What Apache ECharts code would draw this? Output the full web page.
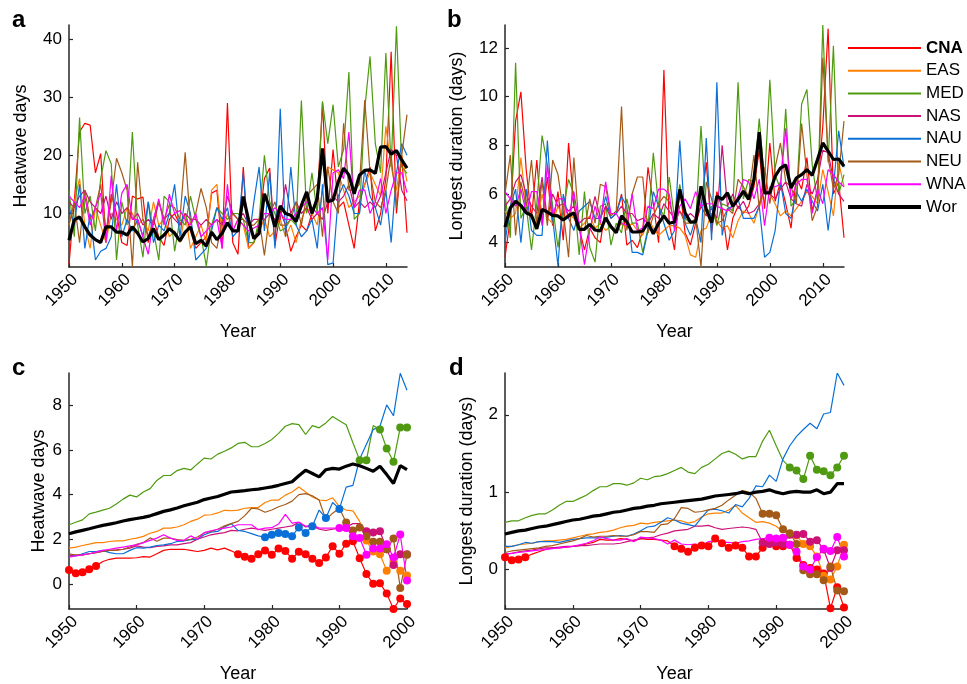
<!DOCTYPE html>
<html>
<head>
<meta charset="utf-8">
<script src="https://cdn.jsdelivr.net/npm/echarts@6/dist/echarts.min.js"></script>
<style>
html,body{margin:0;padding:0;background:#fff;}
#chart{width:967px;height:684px;}
</style>
</head>
<body>
<div id="chart"></div>
<script>
// ---------- DATA ----------
const regions = ['CNA', 'EAS', 'MED', 'NAS', 'NAU', 'NEU', 'WNA', 'Wor'];
const xTicksAB = [1950, 1960, 1970, 1980, 1990, 2000, 2010];
const xTicksCD = [1950, 1960, 1970, 1980, 1990, 2000];
const yTicksA = [10, 20, 30, 40];
const yTicksB = [4, 6, 8, 10, 12];
const yTicksC = [0, 2, 4, 6, 8];
const yTicksD = [0, 1, 2];

// Panel a: heatwave days 1950-2014
const cnaA = [1.2,12,24,25.5,25.2,17,20.3,5,13.3,10, 5,4.5,13,12.5,12.8,5,9,6,4.5,9, 10,8,10,7,4,5,6,13.5,14,4, 29,5,3,18,4,5,8,16,17.8,4.5, 10.4,8,3.5,6,8,7,10,12,29,10, 21,11,12,8,4,12,15,18,7,10, 16,37.8,10,20,6.7];
const easA = [8,12,16,8,4,11,8,5,10,9, 8,11,10,8,9,7,12,8,9,6, 7,5,10,4,6,8,5,14,15,6, 10,7,9,8,4,5,7,9,6,7, 9,6,8,5,9,11,10,8,14,18, 17.5,17,14,11,12,13,15,17,15,13, 25,18,14,20,15.5];
const medA = [14,6,26.5,10,13,7,16,20.8,18.5,2, 12,8,24,8,2.5,12,7,2,13,12, 3.5,9,8,13,9,6,1,8,11,10, 9,10,10,9,5,5,9,20,12,10, 7,7.5,9,8,29.4,10,17,10,29.3,22, 28.7,18,21,34.3,9,10,28,37,22,17, 37.6,18,42.2,18,16.9];
const nasA = [12,11,13,14,12,11,10,13,9,12, 10,11,9,10,8,9,8,12,9,10, 9,8,10,9,9,8,9,8,9,8, 13,10,9,10,8,9,9,9,10,9, 9,15,10,12,10,11,9,10,9,12, 13,12,13,15,11,12,11,12,11,13, 17,21,20,14,12.2];
const nauA = [11,8,15,4,10,2,3.5,4,6,15, 6,9,7,9,6,12,5,8,7,10, 15,6,13,10,2,3,4,7,11,9, 11,6,7,17,5,12,18,7,17,4, 28,6,18,8,6,7,9,4,15,1.2, 1.5,13,15,13,10,10,17.5,13,11,8, 14,5,17,22,20];
const neuA = [8,12,5,14,9,11,15,7,12,19.5, 17,14,0.8,18.8,9,6,9,12,9,11.5, 11,9,20.5,8,10,14.3,11,5,4,9, 8,10,9,9,8,8,9,2.8,10,12, 8,8,9,12,8,13,14,15,6,18, 12,10,25.5,14,14,15,29.5,17,12,11, 14,20,11,20,27];
const wnaA = [13,12,11,13,8,11,13.5,5,16.5,7, 13.5,15,9,9,6,3,9,12.5,8,13.3, 10,10.5,9,8,10,6,7,8,9,4, 15,7,9,8,7,7.5,8,10,10,11, 10,9,9,10,11,12,11,10,11,2, 17,17.5,16,24,11,14,14,10,12,16, 10,14,17,17,13.6];
const worA = [5.4,8.9,9.4,7.7,6.3,5.5,5.0,7.7,7.7,6.8, 6.8,6.3,7.7,6.6,5.1,5.7,7.4,5.5,6.3,7.4, 6.6,5.3,6.8,7.7,4.8,5.4,4.4,6.8,5.5,6.6, 8.4,7.0,7.0,12.9,8.9,5.7,6.6,13.4,10.9,7.7, 11.3,10.0,9.7,8.6,11.4,13.7,10.0,12.6,21.2,12.0, 12.3,15.5,17.8,16.6,13.4,16.6,17.4,17.5,16.9,21.4, 21.5,20.2,20.8,19.2,17.8];

// Panel b: longest duration 1950-2014
const cnaB = [3.4,5,9,10.2,7,5,7.4,4.8,6.7,4.7, 6.1,4.1,8.1,5.5,4.6,3.7,4.6,4.2,4.0,5.5, 5.2,5.2,6,3.9,4.1,3.8,4.5,7.1,5.6,4, 11.1,4.8,3.7,6.3,4.4,3.9,4.8,5.5,7.3,4.4, 6.1,5.4,3.7,5,5.5,5.2,5.5,6.3,7.8,5.4, 8.1,5.7,6.5,5.6,4.6,6.7,6.2,7.5,5.3,6.2, 8.8,12.8,6,6.5,4.2];
const easB = [5.3,5,5.2,7.5,5.5,5,4.8,6,5,4.8, 5.5,5,5.2,5,4.6,4.8,5.1,4.6,4.8,4.5, 4.7,4.5,4.8,4.6,4.8,4.5,4.3,5,4.6,4.3, 4.5,4.7,4.7,4.6,4.3,3.5,3.4,4.5,4.6,5.2, 4.9,4.6,4.7,4.2,4.9,5.3,5.2,4.8,5.5,6.1, 6.0,5.6,5.1,5.3,5.1,5.4,5.7,6.1,5.9,5.6, 7.0,6.1,5.1,7.3,6.3];
const medB = [6,4.2,11.4,5,5.5,3.7,5.6,8.4,7.2,5.5, 3.8,5.4,6.6,6,3.5,6.1,3.8,3.2,5.5,5.6, 3.9,4.8,4.4,5.8,4.8,4.8,3.6,4.6,7.7,5.5, 5.1,6.7,5,6.4,5,4.8,4.8,8.8,5.2,5.5, 4.7,5.6,5.5,5.3,10.6,5.8,6.6,6.5,9.1,6.5, 10.7,6.8,6.2,9.5,5.5,5.8,9.7,10.3,7.2,5.7, 12.95,7.3,12.1,6,6.8];
const nasB = [5.5,5.8,6.5,6.8,6.0,5.5,5.2,6.7,5.0,6.0, 5.5,5.6,5.3,5.5,4.8,5.0,5.0,5.9,5.0,5.5, 5.0,5.2,5.5,5.2,5.2,4.9,5.0,4.8,5.2,5.0, 5.6,5.3,5.0,5.3,5.0,5.2,5.0,5.5,5.1,5.4, 5.0,8.0,5.5,6.0,5.4,5.7,5.2,5.3,5.6,6.2, 6.0,5.8,6.2,6.5,5.8,5.6,5.5,6.4,6.0,6.6, 7.8,7.7,6.6,6.0,5.7];
const nauB = [4,5.5,6.2,4.0,6.2,4.5,4.3,4.3,8.2,5.0, 3.05,6.0,5,4.5,5.3,5.5,5.7,5.0,5.0,5.9, 5,5.2,5.9,5.5,3.6,3.6,3.5,4.5,6.1,5.5, 4.8,4.1,4.5,8.2,4.8,4.3,5,4.0,8.3,4.1, 10.6,4.3,5.4,5.5,5.8,5.0,5.0,5.0,5.5,3.4, 3.6,4.5,6.5,5.2,5.0,6.1,5.7,6.2,5.7,5.3, 6.4,4.5,6.3,8.6,7.1];
const neuB = [6,7.6,4.3,6.5,5.5,7.4,4.8,6.5,4.7,7.4, 6.8,5.3,3.4,7.5,4.6,4.5,5.8,4.8,6.4,6.3, 5.1,5.3,9.6,4.5,6,6.7,6.7,4.4,5.1,5.6, 5.9,5.7,4.8,5.3,4.8,4.8,5,3.0,6.5,5.8, 4.8,4.9,5.4,5.2,6.6,6.3,5.9,7.6,5.4,7.1, 5.6,7.1,8.1,6.5,6.3,5.6,8.9,6.8,4.9,5.5, 11.6,7.5,6.2,6.8,9.0];
const wnaB = [6.1,5.8,5.5,6.2,5.2,6.1,6.1,4.7,7.2,5.1, 5.8,5.8,5.0,6.1,4.7,3.1,4.5,5.5,4.8,6.5, 5.2,5.2,4.8,4.7,6,4.5,4.6,5.5,5.4,6.2, 6.2,6.0,4.5,5.5,5.8,5.4,6.1,5.5,5.6,5.6, 5.5,5.4,5.3,5.5,5.9,6.6,6.5,5.8,6.6,4.7, 6.3,6.3,6.4,8.7,5.8,6.4,6.6,6.6,5.2,6.2, 5.6,7.0,6.8,6.5,6.3];
const worB = [4.64,5.43,5.7,5.53,5.23,5.12,4.57,5.37,5.26,5.12, 5.1,4.93,5.1,5.23,4.55,4.55,4.75,4.52,4.48,5.02, 4.66,4.41,5.1,4.85,4.44,4.44,4.48,4.82,4.37,4.8, 5.1,4.8,4.85,6.19,5.23,4.85,4.85,6.32,5.37,4.82, 5.91,5.78,6.05,5.5,5.78,6.12,5.78,6.6,8.54,6.05, 6.05,6.73,7.07,7.2,6.25,6.66,6.8,7.0,6.77,7.42, 8.1,7.76,7.42,7.44,7.14];

// Panel c: heatwave days trend 1950-2000
const cnaC = [0.62,0.47,0.52,0.65,0.8,1.0,1.1,1.15,1.15,1.15, 1.17,1.22,1.2,1.35,1.5,1.55,1.55,1.55,1.5,1.45, 1.5,1.6,1.52,1.6,1.48,1.33,1.21,1.13,1.33,1.5, 1.3,1.59,1.47,1.13,1.44,1.33,1.13,0.93,1.18,1.69, 1.35,1.8,1.91,1.15,0.44,0.0,0.03,-0.44,-1.13,-0.66, -0.91];
const easC = [1.6,1.65,1.72,1.78,1.85,1.85,1.9,1.93,1.93,2.0, 2.05,2.13,2.27,2.35,2.5,2.5,2.55,2.65,2.8,2.9, 3.08,3.1,3.18,3.3,3.28,3.31,3.39,3.42,3.42,3.65, 3.76,3.76,3.98,4.12,4.34,4.12,3.9,3.76,3.73,3.86, 3.46,3.31,3.27,2.8,1.94,1.45,1.33,0.59,1.0,0.59, 0.37];
const medC = [2.65,2.76,2.87,3.14,3.22,3.31,3.39,3.58,3.8,3.98, 3.9,4.12,4.27,4.64,4.86,4.86,5.08,5.18,5.11,5.38, 5.64,5.6,5.82,5.95,6.1,6.3,6.35,6.15,6.15,6.3, 6.48,6.75,7.07,7.19,7.14,6.7,7.1,7.0,7.22,7.51, 7.32,7.14,6.33,5.55,5.55,7.1,6.92,6.07,5.48,7.01, 7.01];
const nasC = [1.25,1.28,1.3,1.35,1.4,1.45,1.5,1.52,1.55,1.6, 1.7,1.65,1.62,1.68,1.7,1.75,1.75,1.8,1.85,2.0, 2.1,2.2,2.25,2.3,2.4,2.38,2.45,2.5,2.45,2.4, 2.45,2.5,2.55,2.6,2.75,2.55,2.6,2.45,2.4,2.45, 2.5,2.55,2.7,2.7,2.36,2.3,2.36,1.55,0.85,1.33, 1.33];
const nauC = [1.35,1.25,1.35,1.45,1.45,1.5,1.4,1.35,1.35,1.5, 1.62,1.6,1.65,1.72,1.75,1.8,1.9,1.92,1.98,2.0, 2.2,2.32,2.35,2.55,2.7,2.4,2.35,2.25,2.15,2.09, 2.2,2.28,2.24,2.14,2.53,2.28,2.58,3.31,2.95,3.65, 3.36,4.34,4.42,5.6,6.26,6.92,7.07,8.03,7.54,9.45, 8.69];
const neuC = [1.33,1.3,1.3,1.35,1.4,1.47,1.5,1.5,1.55,1.65, 1.77,1.85,2.06,1.91,2.05,2.05,1.98,1.95,2.0,2.1, 2.28,2.35,2.45,2.6,2.7,2.8,3.06,3.39,3.36,3.21, 3.31,3.46,3.56,3.71,4.0,4.05,3.95,3.76,2.87,3.17, 3.39,2.75,2.39,2.53,2.14,1.89,1.89,1.55,2.03,-0.19, 1.3];
const wnaC = [1.2,1.25,1.3,1.35,1.42,1.5,1.55,1.6,1.65,1.7, 1.75,1.85,1.95,2.05,2.2,2.05,1.95,1.95,2.15,2.0, 2.3,2.38,2.45,2.5,2.55,2.65,2.65,2.65,2.43,2.5, 2.52,2.68,3.12,2.72,2.77,2.58,2.65,2.5,2.5,2.5, 2.5,2.5,2.14,2.06,1.3,1.59,1.59,1.77,1.18,2.21, 0.15];
const worC = [2.25,2.33,2.4,2.47,2.55,2.62,2.68,2.74,2.82,2.88, 2.93,2.98,3.05,3.15,3.25,3.32,3.4,3.5,3.58,3.66, 3.78,3.85,3.92,4.02,4.12,4.15,4.18,4.22,4.25,4.3, 4.35,4.42,4.5,4.58,4.85,5.1,4.95,4.8,5.12,5.18, 5.15,5.28,5.38,5.3,5.18,5.05,5.28,4.9,4.5,5.3, 5.12];

// Panel d: longest duration trend 1950-2000
const cnaD = [0.16,0.12,0.13,0.16,0.2,0.23,0.26,0.28,0.28,0.29, 0.3,0.31,0.33,0.35,0.39,0.38,0.38,0.4,0.39,0.37, 0.4,0.39,0.39,0.38,0.37,0.3,0.27,0.23,0.28,0.31, 0.3,0.4,0.34,0.28,0.31,0.28,0.17,0.17,0.28,0.35, 0.3,0.3,0.32,0.15,0.06,0.02,0.0,-0.05,-0.5,-0.23, -0.49];
const easD = [0.28,0.3,0.32,0.33,0.34,0.36,0.37,0.37,0.38,0.39, 0.41,0.43,0.45,0.46,0.48,0.49,0.51,0.54,0.56,0.57, 0.6,0.59,0.61,0.62,0.63,0.64,0.63,0.6,0.62,0.68, 0.72,0.73,0.73,0.77,0.83,0.73,0.67,0.61,0.62,0.6, 0.56,0.49,0.47,0.44,0.33,0.3,0.17,-0.08,-0.13,0.04, 0.32];
const medD = [0.61,0.63,0.63,0.67,0.7,0.72,0.72,0.77,0.83,0.88, 0.88,0.92,0.96,1.02,1.07,1.07,1.11,1.11,1.09,1.12, 1.18,1.16,1.2,1.21,1.24,1.28,1.32,1.26,1.24,1.32, 1.36,1.43,1.5,1.53,1.49,1.43,1.46,1.46,1.66,1.8, 1.6,1.41,1.32,1.28,1.17,1.47,1.29,1.27,1.22,1.32, 1.47];
const nasD = [0.2,0.21,0.23,0.24,0.25,0.27,0.28,0.28,0.29,0.3, 0.3,0.31,0.31,0.32,0.33,0.33,0.33,0.34,0.36,0.38, 0.4,0.41,0.42,0.45,0.47,0.5,0.51,0.52,0.56,0.56, 0.57,0.54,0.52,0.53,0.54,0.55,0.54,0.52,0.35,0.33, 0.35,0.33,0.45,0.45,0.46,0.36,0.38,0.26,0.02,0.25, 0.25];
const nauD = [0.3,0.3,0.32,0.35,0.34,0.36,0.36,0.36,0.35,0.37, 0.39,0.4,0.41,0.41,0.41,0.42,0.43,0.44,0.43,0.46, 0.5,0.55,0.56,0.61,0.67,0.64,0.6,0.58,0.56,0.67, 0.77,0.78,0.76,0.73,0.84,0.81,0.92,1.08,1.07,1.22, 1.14,1.43,1.6,1.72,1.81,1.89,1.82,2.01,2.03,2.54, 2.38];
const neuD = [0.22,0.24,0.25,0.26,0.27,0.28,0.3,0.31,0.33,0.35, 0.37,0.4,0.44,0.42,0.43,0.43,0.44,0.43,0.43,0.45, 0.49,0.49,0.48,0.58,0.59,0.66,0.8,0.79,0.74,0.75, 0.77,0.79,0.83,0.9,0.96,1.02,1.0,0.92,0.72,0.72, 0.7,0.52,0.47,0.33,-0.01,-0.06,-0.06,-0.14,0.04,-0.27, -0.28];
const wnaD = [0.2,0.21,0.22,0.23,0.24,0.25,0.26,0.27,0.28,0.29, 0.3,0.32,0.34,0.37,0.42,0.4,0.38,0.38,0.4,0.36, 0.42,0.41,0.4,0.38,0.33,0.38,0.33,0.32,0.33,0.32, 0.36,0.37,0.35,0.35,0.34,0.36,0.37,0.39,0.4,0.41, 0.4,0.41,0.32,0.23,0.04,0.0,0.16,0.27,0.24,0.42, 0.17];
const worD = [0.46,0.48,0.5,0.51,0.53,0.55,0.56,0.58,0.6,0.62, 0.64,0.65,0.67,0.69,0.7,0.72,0.74,0.75,0.77,0.79, 0.8,0.82,0.83,0.85,0.86,0.87,0.88,0.89,0.9,0.91, 0.93,0.95,0.96,0.97,0.98,1.0,0.98,1.0,1.01,1.03, 1.0,0.98,1.0,1.01,1.0,1.0,1.03,0.98,1.0,1.11, 1.11];

// Years flagged with dots (significant) in panels c and d
const cnaMarkC = [1950,1951,1952,1953,1954,1975,1976,1977,1978,1979,1980,1981,1982,1983,1984,1985,1986,1987,1988,1989,1990,1991,1992,1993,1994,1995,1996,1997,1998,1999,2000];
const easMarkC = [1994,1995,1996,1997,1998,1999,2000];
const medMarkC = [1993,1994,1996,1997,1998,1999,2000];
const nasMarkC = [1994,1995,1996,1997,1998,1999,2000];
const nauMarkC = [1979,1980,1981,1982,1983,1984,1985,1986,1988,1990];
const neuMarkC = [1991,1992,1993,1994,1995,1996,1997,1998,1999,2000];
const wnaMarkC = [1990,1991,1992,1993,1994,1995,1996,1997,1998,1999,2000];
const worMarkC = [];
const cnaMarkD = [1950,1951,1952,1953,1975,1976,1977,1978,1979,1980,1981,1982,1983,1984,1985,1986,1987,1988,1989,1990,1991,1992,1993,1994,1995,1996,1997,1998,1999,2000];
const easMarkD = [1993,1994,1995,1996,1997,1998,1999,2000];
const medMarkD = [1992,1993,1994,1995,1996,1997,1998,1999,2000];
const nasMarkD = [1988,1989,1990,1991,1992,1993,1994,1995,1996,1997,1998,1999,2000];
const nauMarkD = [];
const neuMarkD = [1988,1989,1990,1991,1992,1993,1994,1995,1996,1997,1998,1999,2000];
const wnaMarkD = [1989,1990,1991,1992,1993,1994,1995,1996,1997,1998,1999,2000];
const worMarkD = [];

// ---------- CHART ----------
const colors = {CNA:'#ff0000', EAS:'#ff8000', MED:'#4f9a10', NAS:'#cc1177', NAU:'#0a6fd6', NEU:'#a35a18', WNA:'#ff00ff', Wor:'#000000'};
const FONT = 'Liberation Sans, Arial, Helvetica, sans-serif';
const AX = '#262626';

const yearsAB = []; for (let y = 1950; y <= 2014; y++) yearsAB.push(y);
const yearsCD = []; for (let y = 1950; y <= 2000; y++) yearsCD.push(y);

const panels = [
  {years: yearsAB, vals: [cnaA,easA,medA,nasA,nauA,neuA,wnaA,worA], marks: null},
  {years: yearsAB, vals: [cnaB,easB,medB,nasB,nauB,neuB,wnaB,worB], marks: null},
  {years: yearsCD, vals: [cnaC,easC,medC,nasC,nauC,neuC,wnaC,worC], marks: [cnaMarkC,easMarkC,medMarkC,nasMarkC,nauMarkC,neuMarkC,wnaMarkC,worMarkC]},
  {years: yearsCD, vals: [cnaD,easD,medD,nasD,nauD,neuD,wnaD,worD], marks: [cnaMarkD,easMarkD,medMarkD,nasMarkD,nauMarkD,neuMarkD,wnaMarkD,worMarkD]}
];

const grids = [
  {left: 69, top: 25, width: 338, height: 242},
  {left: 505, top: 25, width: 339, height: 242},
  {left: 69, top: 373, width: 338, height: 239},
  {left: 505, top: 373, width: 339, height: 239}
];

const yCfg = [
  {min: 0.8, max: 42.4, ticks: yTicksA, name: 'Heatwave days', gap: 39},
  {min: 3.0, max: 12.95, ticks: yTicksB, name: 'Longest duration (days)', gap: 39},
  {min: -1.13, max: 9.46, ticks: yTicksC, name: 'Heatwave days', gap: 21},
  {min: -0.51, max: 2.54, ticks: yTicksD, name: 'Longest duration (days)', gap: 29}
];
const xCfg = [
  {min: 1950, max: 2014, ticks: xTicksAB, gap: 56},
  {min: 1950, max: 2014, ticks: xTicksAB, gap: 56},
  {min: 1950, max: 2000, ticks: xTicksCD, gap: 56},
  {min: 1950, max: 2000, ticks: xTicksCD, gap: 56}
];

const xAxis = xCfg.map((c, i) => ({
  type: 'value', gridIndex: i, min: c.min, max: c.max,
  name: 'Year', nameLocation: 'middle', nameGap: c.gap,
  nameTextStyle: {fontFamily: FONT, fontSize: 18, color: '#000'},
  axisLine: {onZero: false, lineStyle: {color: AX, width: 1.5}},
  axisTick: {inside: true, length: 4, customValues: c.ticks, lineStyle: {color: AX, width: 1.2}},
  axisLabel: {customValues: c.ticks, rotate: 45, margin: 4, verticalAlign: 'top',
    formatter: v => String(v), fontFamily: FONT, fontSize: 17, color: '#000'},
  splitLine: {show: false}
}));
const yAxis = yCfg.map((c, i) => ({
  type: 'value', gridIndex: i, min: c.min, max: c.max,
  name: c.name, nameLocation: 'middle', nameGap: c.gap,
  nameTextStyle: {fontFamily: FONT, fontSize: 18, color: '#000'},
  axisLine: {show: true, lineStyle: {color: AX, width: 1.5}},
  axisTick: {show: true, inside: true, length: 4, customValues: c.ticks, lineStyle: {color: AX, width: 1.2}},
  axisLabel: {customValues: c.ticks, margin: 7, formatter: v => String(v), fontFamily: FONT, fontSize: 17, color: '#000'},
  splitLine: {show: false}
}));

const series = [];
panels.forEach((p, pi) => {
  regions.forEach((r, ri) => {
    const mk = p.marks ? p.marks[ri] : [];
    const isW = r === 'Wor';
    series.push({
      type: 'line', name: r, xAxisIndex: pi, yAxisIndex: pi,
      color: colors[r],
      lineStyle: {width: isW ? 3.2 : 1.2, color: colors[r]},
      itemStyle: {color: colors[r]},
      symbolSize: 8,
      showAllSymbol: true,
      emphasis: {disabled: true},
      z: isW ? 5 : 2,
      data: p.vals[ri].map((v, k) => ({
        value: [p.years[k], v],
        symbol: mk.indexOf(p.years[k]) >= 0 ? 'circle' : 'none'
      }))
    });
  });
});

const chart = echarts.init(document.getElementById('chart'), null, {renderer: 'canvas'});
chart.setOption({
  animation: false,
  backgroundColor: '#fff',
  textStyle: {fontFamily: FONT},
  grid: grids,
  xAxis: xAxis,
  yAxis: yAxis,
  legend: [
    {
      data: regions.slice(0, 7), orient: 'vertical', left: 848, top: 38, padding: 0,
      icon: 'rect', itemWidth: 73, itemHeight: 2, itemGap: 2.7,
      selectedMode: false,
      formatter: n => n === 'CNA' ? '{b|' + n + '}' : n,
      textStyle: {fontFamily: FONT, fontSize: 17, color: '#000', lineHeight: 20,
        rich: {b: {fontFamily: FONT, fontSize: 17, fontWeight: 'bold', color: '#000', lineHeight: 20}}}
    },
    {
      data: ['Wor'], orient: 'vertical', left: 848, top: 197, padding: 0,
      icon: 'rect', itemWidth: 73, itemHeight: 4,
      selectedMode: false,
      textStyle: {fontFamily: FONT, fontSize: 17, color: '#000', lineHeight: 20}
    }
  ],
  graphic: [
    {type: 'text', left: 12, top: 8, style: {text: 'a', font: 'bold 24px ' + FONT, fill: '#000'}},
    {type: 'text', left: 447, top: 8, style: {text: 'b', font: 'bold 24px ' + FONT, fill: '#000'}},
    {type: 'text', left: 12, top: 356, style: {text: 'c', font: 'bold 24px ' + FONT, fill: '#000'}},
    {type: 'text', left: 449, top: 356, style: {text: 'd', font: 'bold 24px ' + FONT, fill: '#000'}}
  ],
  series: series
});
</script>
</body>
</html>
